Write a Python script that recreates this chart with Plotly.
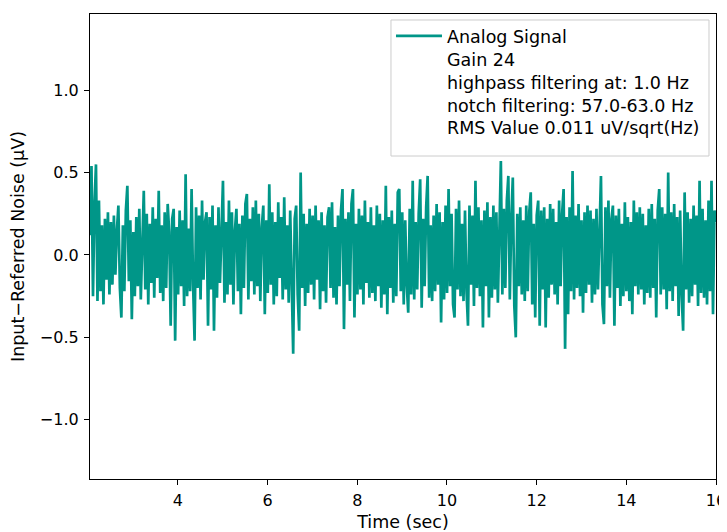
import plotly.graph_objs as go

# acquisition window
T_START = 2.04
T_END = 16.0

# input-referred noise samples (uV) left to right
noise_uv = [
    0.12, 0.54, -0.25, 0.31, 0.55, -0.28, 0.33, -0.22, 0.18, -0.30,
    0.22, -0.15, 0.26, -0.24, 0.20, -0.18, 0.24, -0.12, 0.15, 0.30,
    -0.20, -0.38, 0.18, -0.22, 0.27, 0.42, -0.16, 0.21, -0.39, 0.14,
    -0.25, 0.23, -0.19, 0.28, -0.27, 0.16, 0.39, -0.21, 0.25, -0.30,
    0.19, -0.17, 0.29, -0.26, 0.22, -0.14, 0.39, -0.23, 0.18, -0.28,
    0.26, -0.20, 0.31, 0.14, -0.43, 0.22, 0.28, -0.52, 0.17, -0.24,
    0.27, -0.19, 0.21, -0.31, 0.49, -0.25, 0.16, -0.22, 0.40, -0.18,
    -0.52, 0.29, -0.20, 0.24, -0.27, 0.33, -0.15, 0.20, 0.26, -0.43,
    0.23, -0.21, 0.30, -0.46, 0.18, -0.26, 0.29, -0.17, 0.22, 0.45,
    -0.29, 0.20, -0.24, 0.33, -0.18, 0.26, -0.30, 0.15, 0.28, -0.22,
    0.19, -0.36, 0.24, -0.20, 0.31, 0.37, -0.27, 0.22, -0.16, 0.29,
    -0.24, 0.33, -0.19, 0.25, -0.28, 0.17, 0.30, -0.36, 0.21, -0.23,
    0.43, -0.18, 0.26, -0.30, 0.20, -0.25, 0.32, -0.14, 0.23, -0.27,
    0.35, -0.21, 0.18, -0.29, 0.27, -0.16, -0.60, 0.22, 0.30, -0.24,
    -0.46, 0.50, -0.20, 0.25, -0.31, 0.19, -0.23, 0.28, -0.18, 0.24,
    -0.27, 0.30, -0.15, 0.21, -0.33, 0.26, -0.22, 0.18, -0.29, 0.23,
    0.29, -0.20, 0.32, -0.26, 0.17, -0.30, 0.24, -0.19, 0.27, 0.40,
    -0.45, 0.22, -0.18, 0.26, -0.28, 0.31, 0.40, -0.38, 0.19, -0.24,
    0.28, -0.21, 0.24, -0.30, 0.33, -0.17, 0.20, -0.26, 0.29, -0.23,
    0.18, -0.28, 0.30, -0.19, 0.25, -0.32, 0.21, -0.24, 0.42, -0.36,
    0.23, -0.20, 0.27, -0.29, 0.19, -0.25, 0.38, 0.40, -0.22, 0.26,
    -0.30, 0.21, -0.18, -0.35, 0.28, -0.24, 0.45, -0.27, 0.20, -0.21,
    0.25, 0.46, -0.32, 0.22, -0.19, 0.29, 0.48, -0.26, 0.18, -0.28,
    0.24, -0.22, 0.31, -0.18, 0.26, -0.41, 0.20, -0.27, 0.30, -0.23,
    0.40, -0.19, 0.25, -0.30, -0.38, 0.28, -0.21, 0.33, -0.25, 0.19,
    -0.28, 0.27, -0.22, -0.43, 0.30, -0.18, 0.24, -0.31, 0.45, -0.20,
    0.29, -0.25, 0.21, -0.44, 0.27, -0.19, 0.32, -0.38, 0.23, -0.26,
    0.30, -0.21, 0.26, -0.29, 0.18, 0.57, -0.24, 0.28, -0.20, 0.33,
    0.48, -0.27, 0.22, 0.47, -0.31, -0.50, 0.25, -0.19, 0.29, -0.24,
    0.21, -0.28, 0.30, -0.22, 0.26, 0.38, -0.30, 0.19, -0.38, 0.24,
    0.33, -0.43, 0.27, -0.21, 0.29, -0.44, 0.22, -0.26, 0.31, -0.18,
    0.28, -0.24, 0.20, -0.30, 0.33, -0.19, 0.25, 0.40, -0.57, 0.23,
    -0.36, 0.29, -0.22, 0.51, -0.27, 0.24, -0.20, 0.31, -0.25, 0.21,
    -0.35, 0.26, -0.23, 0.30, -0.18, 0.27, -0.29, 0.22, -0.24, 0.28,
    -0.21, 0.25, 0.48, -0.30, -0.42, 0.29, -0.19, 0.33, -0.26, 0.22,
    0.30, -0.43, 0.24, -0.20, 0.28, -0.31, 0.19, -0.25, 0.32, -0.22,
    0.23, -0.28, 0.20, -0.36, 0.33, -0.19, 0.26, -0.24, 0.29, -0.21,
    0.25, -0.30, 0.18, -0.23, 0.28, -0.26, 0.31, -0.20, 0.22, -0.38,
    0.27, 0.40, -0.24, 0.29, -0.21, 0.25, -0.33, 0.50, -0.22, 0.26,
    -0.28, 0.31, -0.19, 0.23, -0.37, 0.27, -0.24, -0.46, 0.38, -0.21,
    0.26, -0.29, 0.22, -0.25, 0.30, -0.18, 0.24, -0.31, 0.45, -0.23,
    0.28, -0.26, 0.21, -0.30, 0.33, -0.22, 0.45, -0.36, 0.27, 0.20,
]

legend_notes = [
    'Gain 24',
    'highpass filtering at: 1.0 Hz',
    'notch filtering: 57.0-63.0 Hz',
    'RMS Value 0.011 uV/sqrt(Hz)',
]

x_ticks = [4, 6, 8, 10, 12, 14, 16]
y_ticks = [-1.0, -0.5, 0.0, 0.5, 1.0]

TEAL = '#009688'
FONT = 'DejaVu Sans'


def sample_times(n):
    step = (T_END - T_START) / (n - 1)
    return [T_START + i * step for i in range(n)]


def plot():
    fig = go.Figure()
    fig.add_trace(go.Scatter(x=sample_times(len(noise_uv)),
                             y=noise_uv,
                             mode='lines',
                             line=dict(color=TEAL, width=2.7),
                             name='Analog Signal'))

    # legend frame holding the signal entry plus the acquisition notes
    fig.add_shape(type='rect', xref='paper', yref='paper',
                  x0=0.4808, x1=0.9888, y0=0.6946, y1=0.9871,
                  line=dict(color='#cccccc', width=1),
                  fillcolor='rgba(255,255,255,0.8)', layer='above')
    fig.add_annotation(xref='paper', yref='paper', x=0.5671, y=0.829,
                       xanchor='left', yanchor='middle', align='left',
                       showarrow=False, text='<br>'.join(legend_notes),
                       font=dict(family=FONT, size=17.5, color='black'))

    axis_style = dict(showgrid=False, zeroline=False, showline=True,
                      linecolor='black', linewidth=1.2, mirror=True,
                      ticks='outside', ticklen=5, tickwidth=1.2,
                      tickcolor='black', automargin=False,
                      ticklabelstandoff=2,
                      tickfont=dict(family=FONT, size=16, color='black'))

    fig.update_layout(
        width=719, height=524,
        margin=dict(l=82, r=11, t=6, b=53),
        paper_bgcolor='white', plot_bgcolor='white',
        font=dict(family=FONT, size=16, color='black'),
        showlegend=True,
        legend=dict(x=0.4808, y=0.9914, xanchor='left', yanchor='top',
                    bgcolor='rgba(0,0,0,0)', borderwidth=0,
                    itemwidth=46,
                    font=dict(family=FONT, size=17.5, color='black')),
        xaxis=dict(range=[T_START, T_END], tickvals=x_ticks,
                   title=dict(text='Time (sec)', standoff=9,
                              font=dict(family=FONT, size=17.5)),
                   **axis_style),
        yaxis=dict(range=[-1.36, 1.463], tickvals=y_ticks, tickformat='.1f',
                   title=dict(text='Input\u2212Referred Noise (\u03bcV)',
                              standoff=13,
                              font=dict(family=FONT, size=17.5)),
                   **axis_style),
    )
    fig.write_html('out.html')


if __name__ == '__main__':
    plot()
